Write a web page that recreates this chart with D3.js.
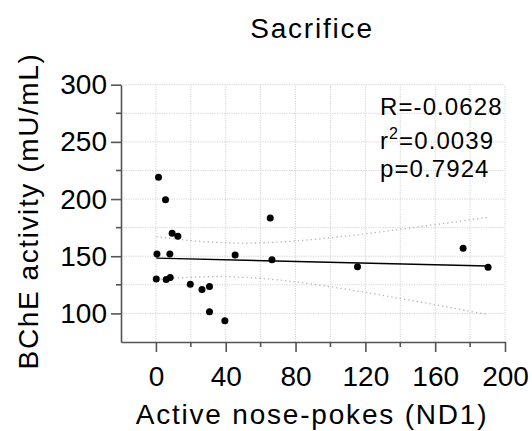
<!DOCTYPE html>
<html>
<head>
<meta charset="utf-8">
<script src="https://cdn.jsdelivr.net/npm/d3@7"></script>
<style>
body { margin: 0; background: #fff; }
text { font-family: "Liberation Sans", Arial, sans-serif; fill: #000; }
</style>
</head>
<body>
<div id="grafica"></div>
<script>
// datos
var pokes = [1.5, 5.5, 9.3, 12.6, 0.6, 8, 45.4, 65.5, 66.5, 115.5, 176, 190.3, 30.7, 39.5, 0.2, 5.9, 8.2, 19.7, 26.4, 30.7];
var bche = [219, 199.5, 170, 167.5, 152, 152, 151, 183.5, 147, 140.7, 157, 140.4, 101.4, 93.5, 130.2, 129.7, 131.4, 125.6, 121, 123.6];
var xTicks = [0, 40, 80, 120, 160, 200];
var xMinor = [-20, 0, 20, 40, 60, 80, 100, 120, 140, 160, 180, 200];
var yTicks = [100, 150, 200, 250, 300];
var yMinor = [75, 100, 125, 150, 175, 200, 225, 250, 275, 300];
var titulo = "Sacrifice";
var xTitulo = "Active nose-pokes (ND1)";
var yTitulo = "BChE activity (mU/mL)";
var statR = "R=-0.0628";
var statR2 = "0.0039";
var statP = "p=0.7924";

var width = 532, height = 431;
var margin = {top: 84.7, left: 121, bottom: 89, right: 27};

var svg = d3.select("#grafica")
	.append("svg")
	.attr("width", width)
	.attr("height", height);

var x = d3.scaleLinear().domain([-20, 200]).range([margin.left, width - margin.right]);
var y = d3.scaleLinear().domain([75, 300]).range([height - margin.bottom, margin.top]);

// rejilla punteada
svg.append("g").selectAll("line")
	.data(xMinor.filter(function(d) { return d > -20; }))
	.enter().append("line")
	.attr("x1", function(d) { return x(d); })
	.attr("x2", function(d) { return x(d); })
	.attr("y1", y(75))
	.attr("y2", y(300))
	.attr("stroke", "#d2d2d2")
	.attr("stroke-dasharray", "1.2,1.2");
svg.append("g").selectAll("line")
	.data(yMinor.filter(function(d) { return d > 75; }))
	.enter().append("line")
	.attr("x1", x(-20))
	.attr("x2", x(200))
	.attr("y1", function(d) { return y(d); })
	.attr("y2", function(d) { return y(d); })
	.attr("stroke", "#d2d2d2")
	.attr("stroke-dasharray", "1.2,1.2");

// regresion lineal y banda de confianza 95%
var n = pokes.length;
var mx = d3.mean(pokes), my = d3.mean(bche);
var sxx = 0, sxy = 0;
for (var i = 0; i < n; i++) {
	sxx += (pokes[i] - mx) * (pokes[i] - mx);
	sxy += (pokes[i] - mx) * (bche[i] - my);
}
var b = sxy / sxx, a = my - b * mx;
var sse = 0;
for (var i = 0; i < n; i++) {
	var r = bche[i] - (a + b * pokes[i]);
	sse += r * r;
}
var s = Math.sqrt(sse / (n - 2));
var tval = 2.101;
var x0 = d3.min(pokes), x1 = d3.max(pokes);
var xs = d3.range(0, 41).map(function(k) { return x0 + (x1 - x0) * k / 40; });
function banda(signo) {
	return xs.map(function(v) {
		var se = s * Math.sqrt(1 / n + (v - mx) * (v - mx) / sxx);
		return [v, a + b * v + signo * tval * se];
	});
}
var linea = d3.line()
	.x(function(d) { return x(d[0]); })
	.y(function(d) { return y(d[1]); });

svg.append("path")
	.datum(banda(1))
	.attr("d", linea)
	.attr("fill", "none")
	.attr("stroke", "#b5b5b5")
	.attr("stroke-width", 1.3)
	.attr("stroke-dasharray", "1.3,3");
svg.append("path")
	.datum(banda(-1))
	.attr("d", linea)
	.attr("fill", "none")
	.attr("stroke", "#b5b5b5")
	.attr("stroke-width", 1.3)
	.attr("stroke-dasharray", "1.3,3");
svg.append("path")
	.datum([[x0, a + b * x0], [x1, a + b * x1]])
	.attr("d", linea)
	.attr("fill", "none")
	.attr("stroke", "#000")
	.attr("stroke-width", 1.4);

// puntos
svg.append("g").selectAll("circle")
	.data(pokes)
	.enter().append("circle")
	.attr("cx", function(d) { return x(d); })
	.attr("cy", function(d, i) { return y(bche[i]); })
	.attr("r", 3.5)
	.attr("fill", "#000");

// ejes
var xAxis = d3.axisBottom(x).tickValues(xTicks).tickSize(10).tickSizeOuter(0).tickPadding(6);
var yAxis = d3.axisLeft(y).tickValues(yTicks).tickSize(10).tickSizeOuter(0).tickPadding(4);

var gx = svg.append("g")
	.attr("transform", "translate(0," + y(75) + ")")
	.call(xAxis);
gx.selectAll(".minor")
	.data(xMinor.filter(function(d) { return xTicks.indexOf(d) < 0 && d > -20; }))
	.enter().append("line")
	.attr("x1", function(d) { return x(d); })
	.attr("x2", function(d) { return x(d); })
	.attr("y1", 0)
	.attr("y2", 5);
var gy = svg.append("g")
	.attr("transform", "translate(" + x(-20) + ",0)")
	.call(yAxis);
gy.selectAll(".minor")
	.data(yMinor.filter(function(d) { return yTicks.indexOf(d) < 0 && d > 75; }))
	.enter().append("line")
	.attr("x1", 0)
	.attr("x2", -5)
	.attr("y1", function(d) { return y(d); })
	.attr("y2", function(d) { return y(d); });

svg.selectAll(".domain, .tick line").attr("stroke", "#555").attr("stroke-width", 1.6);
gx.selectAll("line").attr("stroke", "#555").attr("stroke-width", 1.6);
gy.selectAll("line").attr("stroke", "#555").attr("stroke-width", 1.6);
svg.selectAll(".tick text")
	.style("font-family", "'Liberation Sans', Arial, sans-serif")
	.style("font-size", "28px")
	.attr("fill", "#000");
gx.selectAll(".tick text").attr("dy", "1em");

// titulos
svg.append("text")
	.attr("x", 312)
	.attr("y", 38)
	.attr("text-anchor", "middle")
	.style("font-size", "28px")
	.style("letter-spacing", "1.8px")
	.text(titulo);
svg.append("text")
	.attr("x", 312)
	.attr("y", 424)
	.attr("text-anchor", "middle")
	.style("font-size", "28px")
	.style("letter-spacing", "1.8px")
	.text(xTitulo);
svg.append("text")
	.attr("transform", "translate(38," + 211 + ") rotate(-90)")
	.attr("text-anchor", "middle")
	.style("font-size", "28px")
	.style("letter-spacing", "1.6px")
	.text(yTitulo);

// estadisticos
var gs = svg.append("g").style("font-size", "24px").style("letter-spacing", "1.1px");
gs.append("text").attr("x", 380).attr("y", 115).text(statR);
var t2 = gs.append("text").attr("x", 380).attr("y", 149);
t2.append("tspan").text("r");
t2.append("tspan").attr("dy", -10).style("font-size", "16px").text("2");
t2.append("tspan").attr("dy", 10).text("=" + statR2);
gs.append("text").attr("x", 380).attr("y", 177).text(statP);
</script>
</body>
</html>
